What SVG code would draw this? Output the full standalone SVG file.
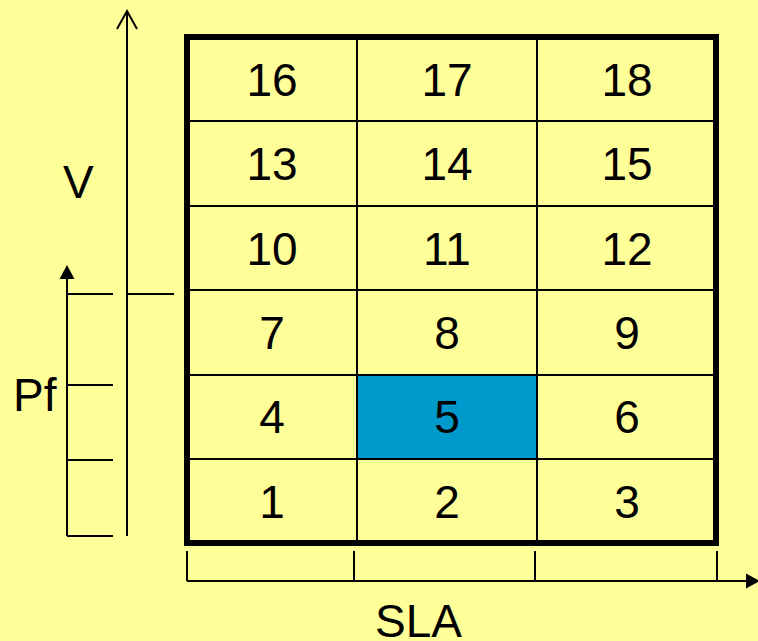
<svg xmlns="http://www.w3.org/2000/svg" width="758" height="641" viewBox="0 0 758 641">
<style>
.t{font-family:"Liberation Sans",Arial,sans-serif;font-size:46px;fill:#000;text-anchor:middle}
.l{font-family:"Liberation Sans",Arial,sans-serif;font-size:46px;fill:#000}
.thin{stroke:#000;stroke-width:2;fill:none}
</style>
<defs>
<marker id="tri" markerWidth="16" markerHeight="16" refX="0" refY="0" viewBox="-1 -8 15 16" orient="auto" markerUnits="userSpaceOnUse">
<path d="M0,-7.5 L14,0 L0,7.5 Z" fill="#000"/>
</marker>
</defs>
<rect width="758" height="641" fill="#FFFF99"/>
<g id="cell5"><rect x="357" y="375" width="180" height="84" fill="#0099CC"/></g>
<g id="grid" class="thin">
<line x1="187" y1="121" x2="716" y2="121"/>
<line x1="187" y1="206" x2="716" y2="206"/>
<line x1="187" y1="290" x2="716" y2="290"/>
<line x1="187" y1="375" x2="716" y2="375"/>
<line x1="187" y1="459" x2="716" y2="459"/>
<line x1="357" y1="37" x2="357" y2="543"/>
<line x1="537" y1="37" x2="537" y2="543"/>
<rect x="187" y="37" width="529" height="506" stroke-width="6"/>
</g>
<g id="labels">
<text class="t" x="272" y="96">16</text><text class="t" x="447" y="96">17</text><text class="t" x="627" y="96">18</text>
<text class="t" x="272" y="180">13</text><text class="t" x="447" y="180">14</text><text class="t" x="627" y="180">15</text>
<text class="t" x="272" y="265">10</text><text class="t" x="447" y="265">11</text><text class="t" x="627" y="265">12</text>
<text class="t" x="272" y="349">7</text><text class="t" x="447" y="349">8</text><text class="t" x="627" y="349">9</text>
<text class="t" x="272" y="433">4</text><text class="t" x="447" y="433">5</text><text class="t" x="627" y="433">6</text>
<text class="t" x="272" y="518">1</text><text class="t" x="447" y="518">2</text><text class="t" x="627" y="518">3</text>
</g>
<g id="connectors">
<g id="v-axis" class="thin">
<line x1="127" y1="536" x2="127" y2="11"/>
<polyline points="117,29 127,11 137,29"/>
<line x1="127" y1="294" x2="174" y2="294"/>
</g>
<g id="pf-axis" class="thin">
<line x1="67" y1="536" x2="67" y2="279" marker-end="url(#tri)"/>
<line x1="67" y1="294" x2="113" y2="294"/>
<line x1="67" y1="385" x2="113" y2="385"/>
<line x1="67" y1="460" x2="113" y2="460"/>
<line x1="67" y1="536" x2="113" y2="536"/>
</g>
<g id="sla-axis" class="thin">
<line x1="187" y1="581" x2="746" y2="581" marker-end="url(#tri)"/>
<line x1="187" y1="551" x2="187" y2="581"/>
<line x1="354" y1="551" x2="354" y2="581"/>
<line x1="535" y1="551" x2="535" y2="581"/>
<line x1="717" y1="551" x2="717" y2="581"/>
</g>
</g>
<g id="axis-labels">
<text class="l" x="63" y="198">V</text>
<text class="l" x="13" y="411">Pf</text>
<text class="l" x="375" y="637">SLA</text>
</g>
</svg>
